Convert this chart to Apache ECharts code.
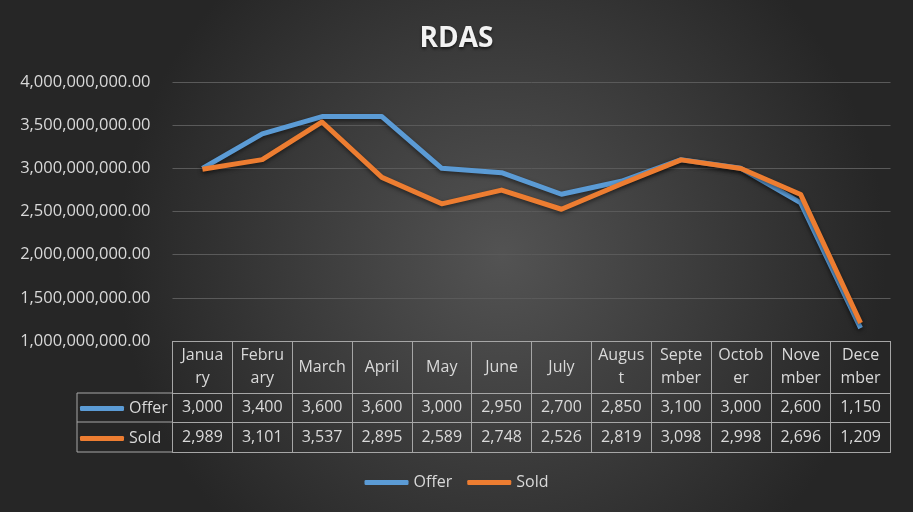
<!DOCTYPE html>
<html><head><meta charset="utf-8">
<script src="https://cdn.jsdelivr.net/npm/echarts@6/dist/echarts.min.js"></script>
<style>html,body{margin:0;padding:0;background:#333}#c{width:913px;height:512px}</style>
</head><body><div id="c"></div>
<script>
const months = ['January','February','March','April','May','June','July','August','September','October','November','December'];
const monthLabels = ['Janua\nry','Febru\nary','March','April','May','June','July','Augus\nt','Septe\nmber','Octob\ner','Nove\nmber','Dece\nmber'];
const offer = [3000,3400,3600,3600,3000,2950,2700,2850,3100,3000,2600,1150];
const sold = [2989,3101,3537,2895,2589,2748,2526,2819,3098,2998,2696,1209];
const seriesNames = ['Offer','Sold'];
const colors = ['#5B9BD5','#ED7D31'];

const txt = '#d9d9d9';
const border = '#a6a6a6';
const font = 'Open Sans';
const fmtY = v => (v*1e6).toLocaleString('en-US',{minimumFractionDigits:2,maximumFractionDigits:2});
const fmtT = v => v.toLocaleString('en-US');

const chart = echarts.init(document.getElementById('c'));
function tableAxis(offset, tickLen, margin, fmt, showLabel){
  return {
    type:'category', data: months, position:'bottom', offset: offset,
    axisLine:{show:true, lineStyle:{color:border, width:1}},
    axisTick:{show: tickLen>0, interval:0, length: tickLen, lineStyle:{color:border, width:1}},
    axisLabel:{show: showLabel, interval:0, margin: margin, verticalAlign:'middle', lineHeight:23,
      color: txt, fontSize:16, fontFamily: font, formatter: fmt},
    splitLine:{show:false}
  };
}
chart.setOption({
  backgroundColor: {type:'radial', x:0.55, y:0.5, r:0.75,
    colorStops:[{offset:0,color:'#535353'},{offset:1,color:'#262626'}]},
  title:{text:'RDAS', left:'center', top:20,
    textStyle:{color:'#f2f2f2', fontSize:28, fontWeight:'bold', fontFamily:font,
      textShadowColor:'rgba(0,0,0,0.6)', textShadowBlur:3, textShadowOffsetY:2}},
  grid:{left:172.5, right:22.5, top:82, height:259},
  legend:[
    {orient:'vertical', left:80, top:398, padding:0, itemWidth:44, itemHeight:5, itemGap:9, icon:'roundRect',
     data: seriesNames, selectedMode:false,
     textStyle:{color:txt, fontSize:16, fontFamily:font, lineHeight:21}},
    {orient:'horizontal', left:'center', top:472, padding:0, itemWidth:44, itemHeight:5, itemGap:15, icon:'roundRect',
     data: seriesNames, selectedMode:false,
     textStyle:{color:txt, fontSize:16, fontFamily:font, lineHeight:21}}
  ],
  xAxis:[
    tableAxis(0, 52, 26, (v,i)=>monthLabels[i], true),
    tableAxis(52, 29, 14.5, (v,i)=>fmtT(offer[i]), true),
    tableAxis(81, 30, 15, (v,i)=>fmtT(sold[i]), true),
    tableAxis(111, 0, 0, ()=>'', false)
  ],
  yAxis:{type:'value', min:1000, max:4000, interval:500,
    axisLine:{show:false}, axisTick:{show:false},
    axisLabel:{color:txt, fontSize:16.5, fontFamily:font, margin:22, formatter: fmtY},
    splitLine:{lineStyle:{color:'#5a5a5a', width:1}}},
  graphic:[
    {type:'line', shape:{x1:77, y1:393, x2:172.5, y2:393}, style:{stroke:border, lineWidth:1}},
    {type:'line', shape:{x1:77, y1:422, x2:172.5, y2:422}, style:{stroke:border, lineWidth:1}},
    {type:'line', shape:{x1:77, y1:452, x2:172.5, y2:452}, style:{stroke:border, lineWidth:1}},
    {type:'line', shape:{x1:77, y1:393, x2:77, y2:452}, style:{stroke:border, lineWidth:1}}
  ],
  series:[
    {name:seriesNames[0], type:'line', data: offer, symbol:'none', color: colors[0],
     lineStyle:{width:5, join:'round', shadowColor:'rgba(0,0,0,0.5)', shadowBlur:4, shadowOffsetY:2}},
    {name:seriesNames[1], type:'line', data: sold, symbol:'none', color: colors[1],
     lineStyle:{width:5, join:'round', shadowColor:'rgba(0,0,0,0.5)', shadowBlur:4, shadowOffsetY:2}}
  ]
});
</script></body></html>
